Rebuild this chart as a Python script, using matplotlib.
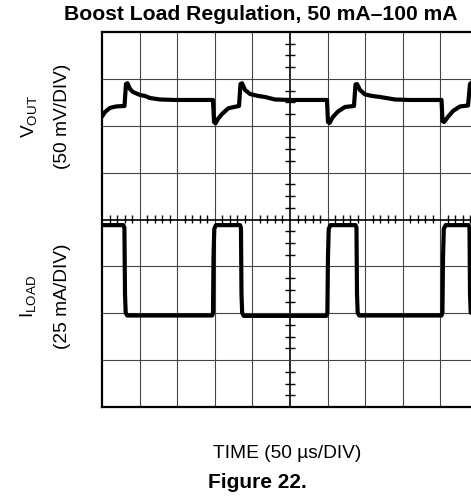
import matplotlib
matplotlib.use("Agg")
import matplotlib.pyplot as plt
import numpy as np

plt.rcParams['font.family'] = ['Liberation Sans', 'DejaVu Sans']

# ---- data ----
# VOUT trace: time (us) and AC deviation (mV) around the settled level
t_vout = [0, 4, 10.6, 18.6, 29.9, 31.9, 33.9, 37.2, 41.2, 50.5, 57.2, 63.8, 77.1, 97,
          147.6, 149, 151, 154.3, 159.6, 167.6, 175.5, 182.2, 184.2, 186.2, 190.2, 196.8,
          207.4, 216.8, 230, 250,
          299.2, 300.5, 302.5, 307.2, 313.8, 323.1, 335.1, 337.1, 339.1, 343, 349.7, 359,
          369.7, 389.6, 409.6,
          451.5, 452.8, 454.8, 460.1, 466.8, 476.1, 486.7, 489.4, 492, 500]
v_mv = [-17.8, -12.8, -8.5, -6.9, -6.4, 17.1, 17.8, 11.7, 8.5, 5.3, 4.3, 2.1, 0.5, 0,
        0, -23.5, -25, -20, -15, -9, -7.5, -6.4, 17, 17.8, 10.7, 6.4,
        4.3, 3.2, 0.5, 0,
        0, -23.5, -24.5, -18, -12.3, -7.5, -6.4, 16.5, 17, 10.7, 5.9, 4.3,
        3.2, 0.5, 0,
        0, -22.4, -23.5, -18, -11.7, -6.9, -5.9, 17, 19, 12]

# ILOAD trace: time (us) and current (mA)
t_iload = [0, 28.5, 29.8, 30.6, 31.5, 33.5, 146.5, 147.6, 148.3, 149.3, 151.5,
           183.6, 184.8, 185.5, 186.4, 188.4, 298.5, 299.7, 300.5, 301.5, 303.8,
           337.2, 338.4, 339.1, 340, 342, 451.5, 452.7, 453.5, 454.5, 457,
           487.5, 488.7, 489.4, 490.3, 500]
i_ma = [97, 97, 95.5, 60, 50.3, 48.8, 48.8, 50.3, 80, 95, 97,
        97, 95.5, 60, 50.3, 48.6, 48.6, 50.3, 80, 95, 97,
        97, 95.5, 60, 50.3, 48.8, 48.8, 50.3, 80, 95, 97,
        97, 95.5, 60, 50.3, 48.8]

US_PER_DIV = 50.0
MV_PER_DIV = 50.0
MA_PER_DIV = 25.0
N_XDIV, N_YDIV = 10, 8
VOUT_OFFSET_DIV = 6.55

title = "Boost Load Regulation, 50 mA\u2013100 mA"
xlabel = "TIME (50 \u00b5s/DIV)"
caption = "Figure 22."

# ---- figure ----
W, H = 471, 500
fig = plt.figure(figsize=(W / 100, H / 100), dpi=100)
left_px, right_px, top_px, bot_px = 102, 478, 32, 407
ax = fig.add_axes([left_px / W, 1 - bot_px / H, (right_px - left_px) / W, (bot_px - top_px) / H])
ax.set_xlim(0, N_XDIV)
ax.set_ylim(0, N_YDIV)
ax.set_xticks([]); ax.set_yticks([])
for s in ax.spines.values():
    s.set_linewidth(1.6)
    s.set_color('black')

# grid
for x in range(1, N_XDIV):
    centre = (x == N_XDIV // 2)
    ax.axvline(x, color='black' if centre else '#444444', lw=1.2 if centre else 0.8, zorder=1)
for y in range(1, N_YDIV):
    centre = (y == N_YDIV // 2)
    ax.axhline(y, color='black' if centre else '#444444', lw=1.2 if centre else 0.8, zorder=1)

# minor ticks on centre lines
xpx_per_div = (right_px - left_px) / N_XDIV
ypx_per_div = (bot_px - top_px) / N_YDIV
ys = np.arange(0, N_YDIV + 1e-9, 0.25)
ys = ys[(np.abs(ys - np.round(ys)) > 1e-6)]
ax.hlines(ys, 5 - 5 / xpx_per_div, 5 + 5 / xpx_per_div, color='black', lw=1.0, zorder=2)
xs = np.arange(0, N_XDIV + 1e-9, 0.2)
xs = xs[(np.abs(xs - np.round(xs)) > 1e-6)]
ax.vlines(xs, 4 - 3 / ypx_per_div, 4 + 5 / ypx_per_div, color='black', lw=1.0, zorder=2)

# traces
tv = np.array(t_vout) / US_PER_DIV
vv = np.array(v_mv) / MV_PER_DIV + VOUT_OFFSET_DIV
ax.plot(tv, vv, color='black', lw=3.0, solid_joinstyle='round', solid_capstyle='round', zorder=3)
ti = np.array(t_iload) / US_PER_DIV
ii = np.array(i_ma) / MA_PER_DIV
ax.plot(ti, ii, color='black', lw=3.0, solid_joinstyle='round', solid_capstyle='round', zorder=3)

# texts
fig.text(261 / W, 1 - 14 / H, title, ha='center', va='center', fontsize=15.2, fontweight='bold')
fig.text(30 / W, 1 - 116.5 / H, r'V$_{\mathregular{OUT}}$', rotation=90, ha='center', va='center', fontsize=13.8)
fig.text(62.5 / W, 1 - 116.5 / H, "(50 mV/DIV)", rotation=90, ha='center', va='center', fontsize=13.8)
fig.text(28.5 / W, 1 - 296 / H, r'I$_{\mathregular{LOAD}}$', rotation=90, ha='center', va='center', fontsize=13.8)
fig.text(62.5 / W, 1 - 296.5 / H, "(25 mA/DIV)", rotation=90, ha='center', va='center', fontsize=13.8)
fig.text(287 / W, 1 - 453 / H, xlabel, ha='center', va='center', fontsize=13.8)
fig.text(257 / W, 1 - 483 / H, caption, ha='center', va='center', fontsize=15, fontweight='bold')

fig.savefig("out.png", dpi=100)
